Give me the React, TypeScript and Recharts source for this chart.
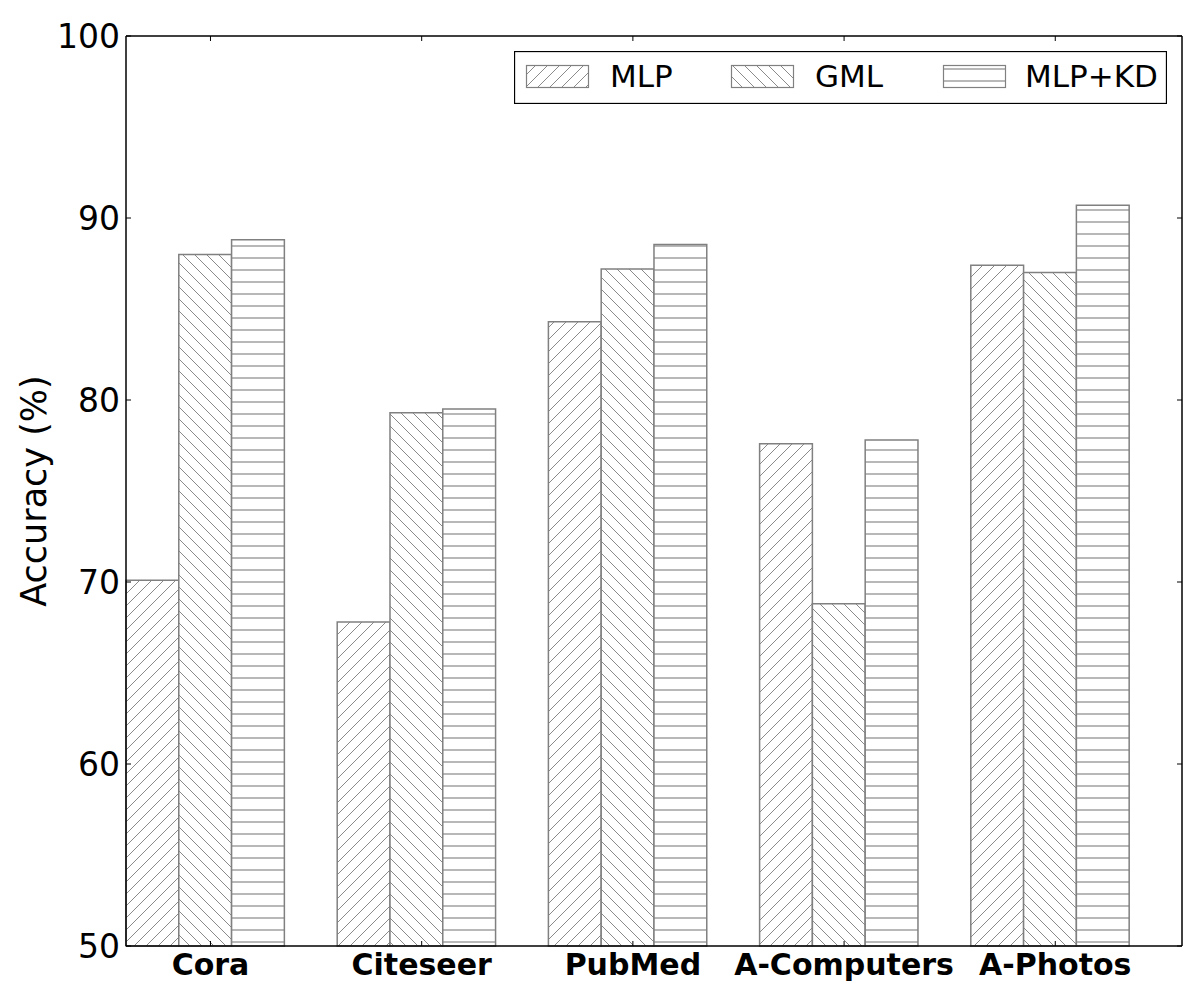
import React from 'react';
import { BarChart, Bar, XAxis, YAxis, Legend } from 'recharts';

// ---------- data ----------
const categories = ['Cora', 'Citeseer', 'PubMed', 'A-Computers', 'A-Photos'];
const mlpValues = [70.1, 67.8, 84.3, 77.6, 87.4];
const gmlValues = [88.0, 79.3, 87.2, 68.8, 87.0];
const mlpKdValues = [88.8, 79.5, 88.55, 77.8, 90.7];
const seriesNames = ['MLP', 'GML', 'MLP+KD'];
const yTicks = [50, 60, 70, 80, 90, 100];
const yDomain: [number, number] = [50, 100];
const yLabel = 'Accuracy (%)';

const data = categories.map((c, i) => ({
  name: c,
  MLP: mlpValues[i],
  GML: gmlValues[i],
  'MLP+KD': mlpKdValues[i],
  gap: null as number | null,
}));

// ---------- layout ----------
const W = 1200;
const H = 1000;
const PLOT_LEFT = 126;
const PLOT_RIGHT = 1182;
const PLOT_TOP = 36;
const PLOT_BOTTOM = 946;
const X_AXIS_H = 40;
const BAND = (PLOT_RIGHT - PLOT_LEFT) / categories.length;
const BAR_SIZE = BAND / 4 - 0.01;
const FONT = '"DejaVu Sans", sans-serif';
const EDGE = '#808080';
const patternIds = ['hatch-mlp', 'hatch-gml', 'hatch-kd'];

const XTick = (props: any) => {
  const { x, payload } = props;
  const lx = x - BAND * 0.1;
  return (
    <g>
      <line x1={lx} x2={lx} y1={PLOT_BOTTOM} y2={PLOT_BOTTOM - 5} stroke="#000" strokeWidth={1} />
      <line x1={lx} x2={lx} y1={PLOT_TOP} y2={PLOT_TOP + 5} stroke="#000" strokeWidth={1} />
      <text x={lx} y={PLOT_BOTTOM + 29} textAnchor="middle" fontWeight="bold" fontSize={30} fontFamily={FONT} fill="#000">
        {payload.value}
      </text>
    </g>
  );
};

const YTick = (props: any) => {
  const { y, payload } = props;
  return (
    <g>
      <line x1={PLOT_LEFT} x2={PLOT_LEFT + 5} y1={y} y2={y} stroke="#000" strokeWidth={1} />
      <line x1={PLOT_RIGHT - 5} x2={PLOT_RIGHT} y1={y} y2={y} stroke="#000" strokeWidth={1} />
      <text x={PLOT_LEFT - 6} y={y} dy="0.36em" textAnchor="end" fontSize={33} fontFamily={FONT} fill="#000">
        {payload.value}
      </text>
    </g>
  );
};

const YLabel = (props: any) => {
  const vb = props.viewBox || { y: PLOT_TOP, height: PLOT_BOTTOM - PLOT_TOP };
  const cy = vb.y + vb.height / 2;
  const cx = 46;
  return (
    <text x={cx} y={cy} textAnchor="middle" fontSize={35} fontFamily={FONT} fill="#000" transform={`rotate(-90, ${cx}, ${cy})`}>
      {yLabel}
    </text>
  );
};

const LEG_W = 653;
const LEG_H = 53;
const legPatchX = [12, 217, 429];
const legTextX = [96, 301, 511];

const renderLegend = () => (
  <svg width={LEG_W} height={LEG_H} style={{ display: 'block' }}>
    <rect x={0.5} y={0.5} width={LEG_W - 1} height={LEG_H - 1} fill="#fff" stroke="#000" strokeWidth={1.3} />
    {seriesNames.map((n, i) => (
      <g key={n}>
        <rect x={legPatchX[i] + 0.5} y={14.5} width={62} height={22} fill={`url(#${patternIds[i]})`} stroke={EDGE} strokeWidth={1.2} />
        <text x={legTextX[i]} y={35.5} fontSize={31} fontFamily={FONT} fill="#000">
          {n}
        </text>
      </g>
    ))}
  </svg>
);

export default function App() {
  return (
    <div style={{ position: 'absolute', left: 0, top: 0, width: W, height: H, background: '#fff' }}>
      <BarChart
        width={W}
        height={H}
        data={data}
        margin={{ top: PLOT_TOP - 1, right: W - PLOT_RIGHT - 1, bottom: H - PLOT_BOTTOM - X_AXIS_H, left: 0 }}
        barGap={0}
        barCategoryGap="0%"
      >
        <defs>
          <pattern id={patternIds[0]} patternUnits="userSpaceOnUse" width={12} height={12}>
            <rect width={12} height={12} fill="#fff" />
            <path d="M0,12 L12,0 M-3,3 L3,-3 M9,15 L15,9" stroke="#8a8a8a" strokeWidth={1} />
          </pattern>
          <pattern id={patternIds[1]} patternUnits="userSpaceOnUse" width={12} height={12}>
            <rect width={12} height={12} fill="#fff" />
            <path d="M0,0 L12,12 M-3,9 L3,15 M9,-3 L15,3" stroke="#8a8a8a" strokeWidth={1} />
          </pattern>
          <pattern id={patternIds[2]} patternUnits="userSpaceOnUse" width={12} height={12}>
            <rect width={12} height={12} fill="#fff" />
            <line x1={0} x2={12} y1={6} y2={6} stroke="#b8b8b8" strokeWidth={2} />
          </pattern>
        </defs>
        <XAxis
          dataKey="name"
          height={X_AXIS_H}
          tick={<XTick />}
          tickLine={false}
          axisLine={{ stroke: '#000', strokeWidth: 1.5 }}
          interval={0}
        />
        <XAxis
          xAxisId="top"
          dataKey="name"
          orientation="top"
          height={1}
          tick={false}
          tickLine={false}
          axisLine={{ stroke: '#000', strokeWidth: 1.5 }}
        />
        <YAxis
          width={PLOT_LEFT}
          domain={yDomain}
          ticks={yTicks}
          tick={<YTick />}
          tickLine={false}
          axisLine={{ stroke: '#000', strokeWidth: 1.5 }}
          interval={0}
          label={(p: any) => <YLabel {...p} />}
        />
        <YAxis
          yAxisId="right"
          orientation="right"
          width={1}
          domain={yDomain}
          ticks={yTicks}
          tick={false}
          tickLine={false}
          axisLine={{ stroke: '#000', strokeWidth: 1.5 }}
        />
        <Legend
          verticalAlign="middle"
          align="center"
          layout="horizontal"
          wrapperStyle={{ top: 51, left: 514, width: LEG_W, height: LEG_H }}
          content={renderLegend}
        />
        <Bar dataKey="MLP" barSize={BAR_SIZE} fill={`url(#${patternIds[0]})`} stroke={EDGE} strokeWidth={1.5} isAnimationActive={false} />
        <Bar dataKey="GML" barSize={BAR_SIZE} fill={`url(#${patternIds[1]})`} stroke={EDGE} strokeWidth={1.5} isAnimationActive={false} />
        <Bar dataKey="MLP+KD" barSize={BAR_SIZE} fill={`url(#${patternIds[2]})`} stroke={EDGE} strokeWidth={1.5} isAnimationActive={false} />
        <Bar dataKey="gap" barSize={BAR_SIZE} fill="none" stroke="none" legendType="none" isAnimationActive={false} />
      </BarChart>
    </div>
  );
}
